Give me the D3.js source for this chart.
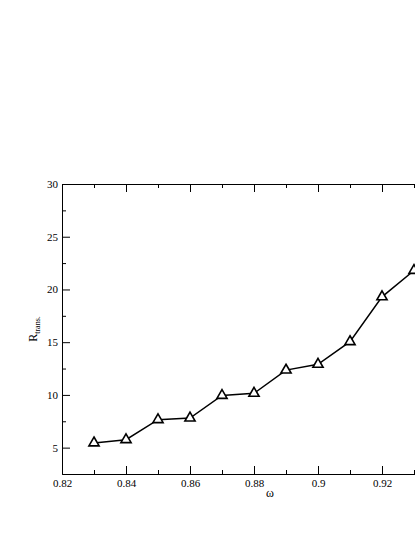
<!DOCTYPE html>
<html>
<head>
<meta charset="utf-8">
<script src="https://cdn.jsdelivr.net/npm/d3@7"></script>
<style>
  body { margin: 0; background: #fff; }
  svg { display: block; }
  svg text { font-family: "Liberation Serif", "DejaVu Serif", serif; }
</style>
</head>
<body>
<div id="chart"></div>
<script>
// data
var omega = [0.83, 0.84, 0.85, 0.86, 0.87, 0.88, 0.89, 0.90, 0.91, 0.92, 0.93];
var rTrans = [5.45, 5.75, 7.65, 7.8, 9.95, 10.15, 12.35, 12.9, 15.05, 19.3, 21.8];

var xMajor = [0.82, 0.84, 0.86, 0.88, 0.90, 0.92];
var xMinor = [0.83, 0.85, 0.87, 0.89, 0.91, 0.93];
var yMajor = [5, 10, 15, 20, 25, 30];
var yMinor = [7.5, 12.5, 17.5, 22.5, 27.5];

var width = 415, height = 537;
var margin = {left: 62, top: 184},
    plotW = 416, plotH = 290;

var svg = d3.select("#chart").append("svg")
    .attr("width", width)
    .attr("height", height);

var g = svg.append("g")
    .attr("transform", "translate(" + margin.left + "," + margin.top + ")");

//////// SCALES ////////
var x = d3.scaleLinear().domain([0.82, 0.95]).range([0, plotW]);
var y = d3.scaleLinear().domain([2.5, 30]).range([plotH, 0]);

var fmt = function(d) { return String(+d.toFixed(2)); };

//////// AXES ////////
// bottom
g.append("g")
    .attr("class", "axis")
    .attr("transform", "translate(0," + plotH + ")")
    .call(d3.axisBottom(x).tickValues(xMajor).tickSize(-8).tickPadding(5).tickFormat(fmt));
g.append("g")
    .attr("class", "axis minor")
    .attr("transform", "translate(0," + plotH + ")")
    .call(d3.axisBottom(x).tickValues(xMinor).tickSize(-4).tickFormat(""));

// top
g.append("g")
    .attr("class", "axis")
    .call(d3.axisTop(x).tickValues(xMajor).tickSize(-8).tickFormat(""));
g.append("g")
    .attr("class", "axis minor")
    .call(d3.axisTop(x).tickValues(xMinor).tickSize(-4).tickFormat(""));

// left
g.append("g")
    .attr("class", "axis")
    .call(d3.axisLeft(y).tickValues(yMajor).tickSize(-8).tickPadding(4).tickFormat(fmt));
g.append("g")
    .attr("class", "axis minor")
    .call(d3.axisLeft(y).tickValues(yMinor).tickSize(-4).tickFormat(""));

// right (falls outside the visible area)
g.append("g")
    .attr("class", "axis")
    .attr("transform", "translate(" + plotW + ",0)")
    .call(d3.axisRight(y).tickValues(yMajor).tickSize(-8).tickFormat(""));

g.selectAll(".axis")
    .attr("font-family", null)
    .attr("font-size", null);
g.selectAll(".axis path, .axis line")
    .attr("stroke", "#000")
    .attr("stroke-width", 1);
g.selectAll(".minor path").remove();
g.selectAll(".axis text")
    .style("font-family", "'Liberation Serif', serif")
    .style("font-size", "11px")
    .attr("fill", "#000");

//////// LINE + MARKERS ////////
var pts = omega.map(function(d, i) { return [d, rTrans[i]]; });

g.append("path")
    .datum(pts)
    .attr("fill", "none")
    .attr("stroke", "#000")
    .attr("stroke-width", 1.5)
    .attr("d", d3.line()
        .x(function(d) { return x(d[0]); })
        .y(function(d) { return y(d[1]); }));

g.selectAll(".mark")
    .data(pts)
    .enter().append("path")
        .attr("class", "mark")
        .attr("transform", function(d) { return "translate(" + x(d[0]) + "," + y(d[1]) + ")"; })
        .attr("d", d3.symbol(d3.symbolTriangle, 45))
        .attr("fill", "#fff")
        .attr("stroke", "#000")
        .attr("stroke-width", 1.6);

//////// LABELS ////////
svg.append("text")
    .attr("x", margin.left + x(0.885))
    .attr("y", 497)
    .attr("text-anchor", "middle")
    .style("font-size", "12px")
    .text("ω");

var yl = svg.append("text")
    .attr("transform", "translate(37," + (margin.top + plotH / 2) + ") rotate(-90)")
    .attr("text-anchor", "middle")
    .style("font-size", "12px");
yl.append("tspan").text("R");
yl.append("tspan")
    .style("font-size", "8px")
    .attr("dy", 3)
    .text("trans.");
</script>
</body>
</html>
